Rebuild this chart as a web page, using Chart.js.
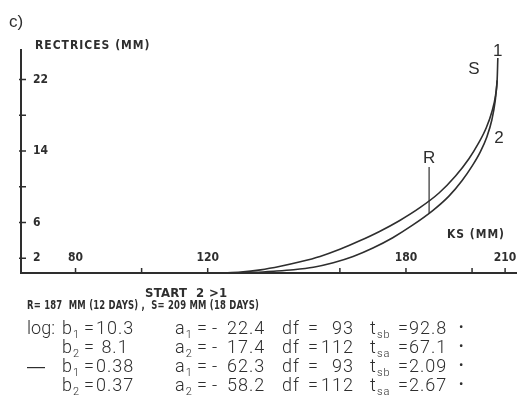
<!DOCTYPE html>
<html>
<head>
<meta charset="utf-8">
<script src="https://cdn.jsdelivr.net/npm/chart.js@4.4.1/dist/chart.umd.min.js"></script>
<style>
  html, body { margin: 0; padding: 0; background: #fff; }
  #wrap { position: relative; width: 517px; height: 407px; }
</style>
</head>
<body>
<div id="wrap"><canvas id="growthChart" width="517" height="407"></canvas></div>
<script>
// Curve 1 and curve 2: rectrices length (mm) against KS length (mm)
const curve1Ks   = [124, 130, 136, 142, 148, 154, 160, 166, 172, 178, 184, 190, 195, 199, 202, 204.3, 206, 207.1, 207.6, 207.8];
const curve1Rect = [0.35, 0.45, 0.7, 1.1, 1.6, 2.2, 3.0, 3.95, 5.0, 6.2, 7.6, 9.3, 11.2, 13.1, 14.9, 16.6, 18.4, 20.2, 22.0, 24.4];
const curve2Ks   = [128, 134, 140, 146, 152, 158, 164, 170, 176, 182, 188, 193, 197, 200, 202.5, 204.5, 206, 207, 207.6];
const curve2Rect = [0.35, 0.42, 0.55, 0.72, 1.0, 1.5, 2.2, 3.15, 4.3, 5.7, 7.3, 8.95, 10.7, 12.3, 13.9, 15.6, 17.5, 19.6, 21.9];

// R marker (R = 187 mm)
const rMarkKs   = [187, 187];
const rMarkRect = [7.05, 12.2];

// axis ticks
const xTickValues  = [80, 100, 120, 160, 180, 200, 210];
const xLabelValues = [80, 120, 180, 210];
const yTickValues  = [2, 6, 10, 14, 18, 22];
const yLabelValues = [2, 6, 14, 22];

// text under the chart
const captionLines = ['START  2 >1', 'R= 187  MM (12 DAYS) ,  S= 209 MM (18 DAYS)'];
const rowPrefix = ['log:', '', '\u2014', ''];
const bSub      = ['1', '2', '1', '2'];
const bValues   = ['10.3', ' 8.1', '0.38', '0.37'];
const aSub      = ['1', '2', '1', '2'];
const aValues   = ['22.4', '17.4', '62.3', '58.2'];
const dfValues  = ['93', '112', '93', '112'];
const tSub      = ['sb', 'sa', 'sb', 'sa'];
const tValues   = ['92.8', '67.1', '2.09', '2.67'];

const toPoints = (xs, ys) => xs.map((v, i) => ({ x: v, y: ys[i] }));

const INK = '#2e2e2e';
const NARROW = '"Liberation Sans Narrow", "DejaVu Sans Condensed", sans-serif';
const PLAIN = 'Roboto, "Liberation Sans", sans-serif';

// draws tick marks, labels and all the loose text of the figure
const figureText = {
    id: 'figureText',
    afterDraw(chart) {
        const { ctx, chartArea, scales: { x, y } } = chart;
        ctx.save();
        ctx.strokeStyle = INK;
        ctx.fillStyle = INK;
        ctx.lineWidth = 1.5;

        // tick marks, pointing into the plot
        ctx.beginPath();
        yTickValues.forEach(v => {
            const py = y.getPixelForValue(v);
            ctx.moveTo(chartArea.left - 2, py);
            ctx.lineTo(chartArea.left + 5, py);
        });
        xTickValues.forEach(v => {
            const px = x.getPixelForValue(v);
            ctx.moveTo(px, chartArea.bottom);
            ctx.lineTo(px, chartArea.bottom - 5);
        });
        ctx.stroke();

        // tick labels
        ctx.font = 'bold 12px ' + NARROW;
        ctx.textBaseline = 'middle';
        ctx.textAlign = 'left';
        yLabelValues.forEach(v => ctx.fillText(String(v), chartArea.left + 12, y.getPixelForValue(v)));
        ctx.textAlign = 'center';
        xLabelValues.forEach(v => ctx.fillText(String(v), x.getPixelForValue(v), chartArea.bottom - 15));

        // axis titles
        ctx.textAlign = 'left';
        ctx.textBaseline = 'alphabetic';
        ctx.font = 'bold 12px ' + NARROW;
        ctx.letterSpacing = '1px';
        ctx.fillText('RECTRICES (MM)', 35, 49, 116);
        ctx.fillText('KS (MM)', 447, 238, 58);

        // curve labels
        ctx.letterSpacing = '0px';
        ctx.font = '17px "Liberation Sans", sans-serif';
        ctx.textAlign = 'center';
        ctx.textBaseline = 'middle';
        ctx.fillText('1', x.getPixelForValue(curve1Ks[curve1Ks.length - 1]), 51);
        ctx.fillText('S', 474, 69);
        ctx.fillText('2', 499, 138);
        ctx.fillText('R', x.getPixelForValue(rMarkKs[0]), y.getPixelForValue(rMarkRect[1]) - 9);

        // panel letter
        ctx.textAlign = 'left';
        ctx.textBaseline = 'alphabetic';
        ctx.font = '17px "Liberation Sans", sans-serif';
        ctx.fillText('c)', 9, 27);

        // caption lines
        ctx.font = 'bold 13px ' + NARROW;
        ctx.letterSpacing = '0.3px';
        ctx.fillText(captionLines[0], 145, 297, 90);
        ctx.fillText(captionLines[1], 27, 309, 232);

        // regression table
        const main = '300 18px ' + PLAIN;
        const small = '300 11px ' + PLAIN;
        const baselines = [334, 353, 372, 391];
        const subText = (base, sub, px, py) => {
            ctx.font = main;
            ctx.fillText(base, px, py);
            const w = ctx.measureText(base).width;
            ctx.font = small;
            ctx.fillText(sub, px + w, py + 4);
            ctx.font = main;
        };
        baselines.forEach((py, i) => {
            ctx.textAlign = 'left';
            ctx.letterSpacing = '0px';
            if (i === 2) {
                ctx.font = '18px "Liberation Sans", sans-serif';
                ctx.fillText(rowPrefix[i], 27, py);
            } else if (rowPrefix[i]) {
                ctx.font = main;
                ctx.fillText(rowPrefix[i], 27, py);
            }
            ctx.letterSpacing = '1px';
            subText('b', bSub[i], 62, py);
            ctx.fillText('=', 84, py);
            ctx.fillText(bValues[i], 96, py);
            subText('a', aSub[i], 175, py);
            ctx.fillText('=', 197, py);
            ctx.fillText('-', 212, py);
            ctx.fillText(aValues[i], 227, py);
            ctx.fillText('df', 282, py);
            ctx.fillText('=', 308, py);
            ctx.textAlign = 'right';
            ctx.fillText(dfValues[i], 354, py);
            ctx.textAlign = 'left';
            ctx.fillText('t', 370, py);
            ctx.font = small;
            ctx.fillText(tSub[i], 377, py + 4);
            ctx.font = main;
            ctx.fillText('=', 398, py);
            ctx.fillText(tValues[i], 409, py);
            ctx.font = '13px ' + PLAIN;
            ctx.textBaseline = 'middle';
            ctx.fillText('\u2022', 459, py - 6);
            ctx.textBaseline = 'alphabetic';
        });
        ctx.restore();
    }
};

new Chart(document.getElementById('growthChart'), {
    type: 'scatter',
    data: {
        datasets: [
            {
                label: '1',
                data: toPoints(curve1Ks, curve1Rect),
                showLine: true,
                borderColor: INK,
                borderWidth: 1.6,
                pointRadius: 0,
                cubicInterpolationMode: 'monotone'
            },
            {
                label: '2',
                data: toPoints(curve2Ks, curve2Rect),
                showLine: true,
                borderColor: INK,
                borderWidth: 1.6,
                pointRadius: 0,
                cubicInterpolationMode: 'monotone'
            },
            {
                label: 'R',
                data: toPoints(rMarkKs, rMarkRect),
                showLine: true,
                borderColor: INK,
                borderWidth: 1.2,
                pointRadius: 0
            }
        ]
    },
    options: {
        responsive: false,
        animation: false,
        events: [],
        layout: { padding: { left: 21, top: 50, right: 0, bottom: 134 } },
        plugins: {
            legend: { display: false },
            tooltip: { enabled: false }
        },
        scales: {
            x: {
                type: 'linear',
                min: 63.5,
                max: 213.6,
                grid: { display: false, drawTicks: false },
                ticks: { display: false },
                border: { display: true, color: INK, width: 2 }
            },
            y: {
                type: 'linear',
                min: 0.35,
                max: 25.3,
                grid: { display: false, drawTicks: false },
                ticks: { display: false },
                border: { display: true, color: INK, width: 2 }
            }
        }
    },
    plugins: [figureText]
});
</script>
</body>
</html>
